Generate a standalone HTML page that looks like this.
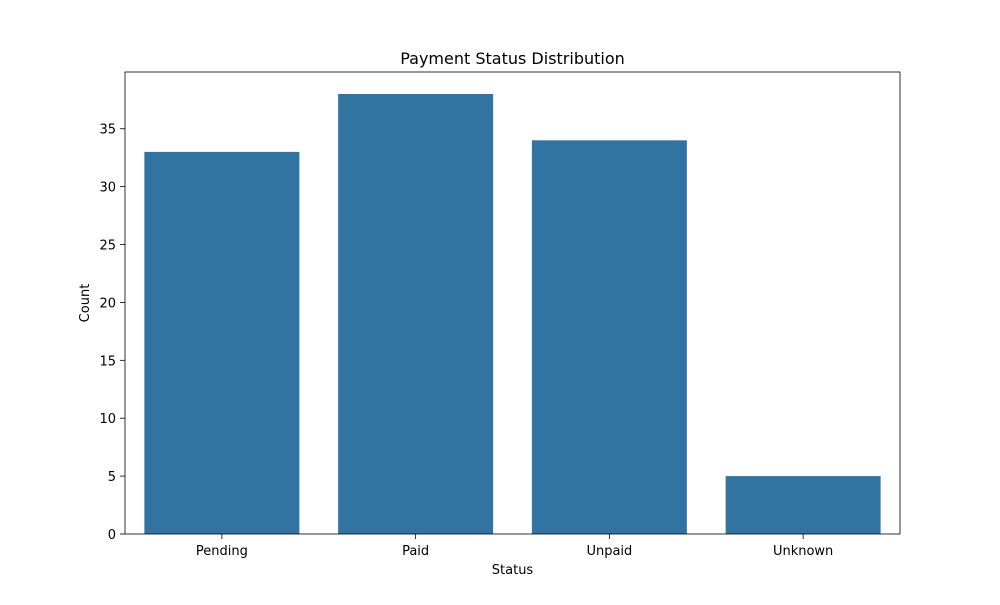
<!DOCTYPE html>
<html><head><meta charset="utf-8"><style>
html,body{margin:0;padding:0;background:#fff;}
svg text{font-family:"DejaVu Sans","Liberation Sans",sans-serif;fill:#000;}
</style></head><body>
<svg id="chart" width="1000" height="600" xmlns="http://www.w3.org/2000/svg">
<rect width="1000" height="600" fill="#fff"/>
<text x="512.5" y="64" font-size="16" text-anchor="middle">Payment Status Distribution</text>
<g id="bars"></g>
<g id="axes"></g>
<text x="512.5" y="574" font-size="13" text-anchor="middle">Status</text>
<text x="89" y="303" font-size="13" text-anchor="middle" transform="rotate(-90 89 303)">Count</text>
</svg>
<script>
const categories = ["Pending","Paid","Unpaid","Unknown"];
const counts = [33,38,34,5];
const yTicks = [0,5,10,15,20,25,30,35];

const L=125,R=900,T=72,B=534,yMax=39.9;
const NS="http://www.w3.org/2000/svg";
const y=v=>B-(v/yMax)*(B-T);
const band=(R-L)/categories.length;
const x=i=>L+band*i+band/2;
const bars=document.getElementById('bars'), axes=document.getElementById('axes');
function mk(tag,attrs,parent){const e=document.createElementNS(NS,tag);for(const k in attrs)e.setAttribute(k,attrs[k]);parent.appendChild(e);return e;}
categories.forEach((c,i)=>{
  const w=band*0.8;
  const r=mk('rect',{x:x(i)-w/2,y:y(counts[i]),width:w,height:B-y(counts[i]),fill:'#3274a1'},bars);
  
  
  mk('line',{x1:x(i),x2:x(i),y1:B,y2:B+5,stroke:'#000','stroke-width':0.8},axes);
  const t=mk('text',{x:x(i),y:B+21,'font-size':13,'text-anchor':'middle'},axes);
  t.textContent=c;
  
  
});
yTicks.forEach(v=>{
  mk('line',{x1:L-5,x2:L,y1:y(v),y2:y(v),stroke:'#000','stroke-width':0.8},axes);
  const t=mk('text',{x:L-9,y:y(v)+5,'font-size':13,'text-anchor':'end'},axes);
  t.textContent=v;
  
  
});
const f=mk('rect',{x:L,y:T,width:R-L,height:B-T,fill:'none',stroke:'#000','stroke-width':0.8},axes);


</script>
</body></html>
